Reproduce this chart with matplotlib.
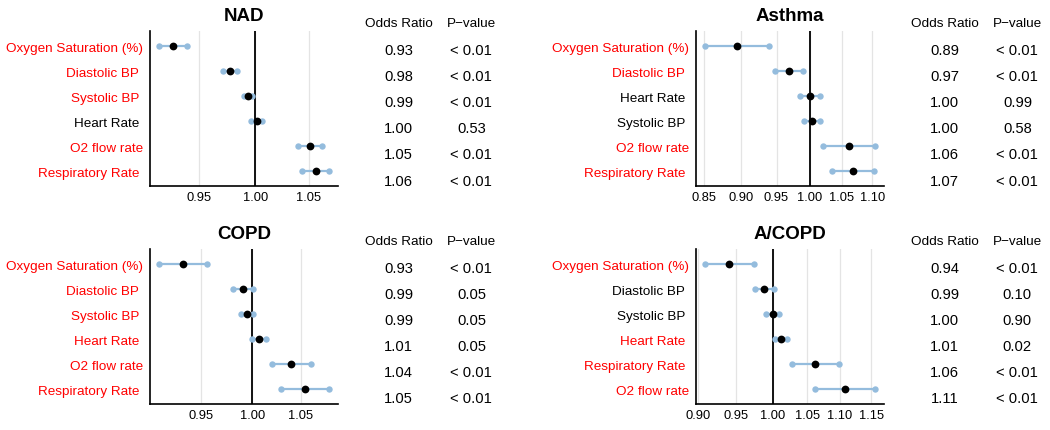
import matplotlib
matplotlib.use("Agg")
import matplotlib.pyplot as plt
from matplotlib.ticker import MultipleLocator, FormatStrFormatter, NullLocator

plt.rcParams['font.family'] = ['Liberation Sans', 'DejaVu Sans']

# ---------------- data ----------------
nad_names = ["Oxygen Saturation (%)", "Diastolic BP ", "Systolic BP ", "Heart Rate ", "O2 flow rate", "Respiratory Rate "]
nad_or = [0.927, 0.977, 0.993, 1.0016, 1.051, 1.057]
nad_lo = [0.915, 0.9705, 0.9893, 0.9963, 1.040, 1.044]
nad_hi = [0.939, 0.983, 0.997, 1.006, 1.063, 1.070]
nad_or_txt = ["0.93", "0.98", "0.99", "1.00", "1.05", "1.06"]
nad_p = ["< 0.01", "< 0.01", "< 0.01", "0.53", "< 0.01", "< 0.01"]

asthma_names = ["Oxygen Saturation (%)", "Diastolic BP ", "Heart Rate ", "Systolic BP ", "O2 flow rate", "Respiratory Rate "]
asthma_or = [0.894, 0.9687, 0.9997, 1.0028, 1.0612, 1.0684]
asthma_lo = [0.8508, 0.9485, 0.9851, 0.9912, 1.0198, 1.0346]
asthma_hi = [0.9394, 0.9886, 1.0147, 1.0151, 1.105, 1.1033]
asthma_or_txt = ["0.89", "0.97", "1.00", "1.00", "1.06", "1.07"]
asthma_p = ["< 0.01", "< 0.01", "0.99", "0.58", "< 0.01", "< 0.01"]

copd_names = ["Oxygen Saturation (%)", "Diastolic BP ", "Systolic BP ", "Heart Rate ", "O2 flow rate", "Respiratory Rate "]
copd_or = [0.933, 0.9904, 0.9944, 1.0070, 1.0398, 1.0542]
copd_lo = [0.9102, 0.9812, 0.9885, 0.9997, 1.0199, 1.0291]
copd_hi = [0.9557, 1.001, 1.0007, 1.0141, 1.0602, 1.0801]
copd_or_txt = ["0.93", "0.99", "0.99", "1.01", "1.04", "1.05"]
copd_p = ["< 0.01", "0.05", "0.05", "0.05", "< 0.01", "< 0.01"]

acopd_names = ["Oxygen Saturation (%)", "Diastolic BP ", "Systolic BP ", "Heart Rate ", "Respiratory Rate ", "O2 flow rate"]
acopd_or = [0.9401, 0.9883, 1.000, 1.0114, 1.0622, 1.108]
acopd_lo = [0.9084, 0.9749, 0.9912, 1.0028, 1.0282, 1.0622]
acopd_hi = [0.9739, 1.0024, 1.0085, 1.021, 1.098, 1.156]
acopd_or_txt = ["0.94", "0.99", "1.00", "1.01", "1.06", "1.11"]
acopd_p = ["< 0.01", "0.10", "0.90", "0.02", "< 0.01", "< 0.01"]

titles = ["NAD", "Asthma", "COPD", "A/COPD"]
header_or = "Odds Ratio"
header_p = "P\u2212value"

panels = [
    (titles[0], nad_names, nad_or, nad_lo, nad_hi, nad_or_txt, nad_p),
    (titles[1], asthma_names, asthma_or, asthma_lo, asthma_hi, asthma_or_txt, asthma_p),
    (titles[2], copd_names, copd_or, copd_lo, copd_hi, copd_or_txt, copd_p),
    (titles[3], acopd_names, acopd_or, acopd_lo, acopd_hi, acopd_or_txt, acopd_p),
]

# ---------------- layout ----------------
W, H = 1050, 431
fig = plt.figure(figsize=(W / 100, H / 100), dpi=100)

ax_w = 187.7
ax_h = 155.0
lefts = [150, 696, 150, 696]
bottoms = [187.3, 187.3, 405.3, 405.3]

CI_COLOR = "#94BCDD"
RED = "#FF0000"


def is_sig(p):
    return p.strip().startswith("<") or float(p) <= 0.05


for (title, names, orv, lo, hi, or_txt, pv), lx, by in zip(panels, lefts, bottoms):
    ax = fig.add_axes([lx / W, (H - by) / H, ax_w / W, ax_h / H])
    ax.set_xscale("log")
    ypos = list(range(len(names)))
    ax.grid(axis="x", color="#E4E4E4", linewidth=0.9, zorder=0)
    ax.set_axisbelow(True)
    ax.axvline(1.0, color="black", linewidth=1.3, zorder=1)
    for y, l, h in zip(ypos, lo, hi):
        ax.plot([l, h], [y, y], color=CI_COLOR, linewidth=1.6,
                marker="o", markersize=4.6, markeredgewidth=0, zorder=2,
                solid_capstyle="butt")
    ax.plot(orv, ypos, linestyle="none", marker="o", color="black",
            markersize=5.6, markeredgewidth=0, zorder=3)
    ax.margins(x=0.05)
    ax.set_ylim(len(names) - 0.4, -0.6)
    ax.set_yticks(ypos)
    ax.set_yticklabels(names, fontsize=9.7)
    for lbl, p in zip(ax.get_yticklabels(), pv):
        lbl.set_color(RED if is_sig(p) else "black")
    ax.xaxis.set_major_locator(MultipleLocator(0.05))
    ax.xaxis.set_minor_locator(NullLocator())
    ax.xaxis.set_major_formatter(FormatStrFormatter("%.2f"))
    ax.xaxis.set_minor_formatter(FormatStrFormatter(""))
    ax.tick_params(axis="x", length=0, pad=3.5, labelsize=9.3, colors="black")
    ax.tick_params(axis="y", length=0, pad=5.3)
    for s in ["top", "right"]:
        ax.spines[s].set_visible(False)
    for s in ["left", "bottom"]:
        ax.spines[s].set_linewidth(1.2)
    ax.set_title(title, fontsize=13.5, fontweight="bold", pad=8)

    # table of values
    x_or = 1 + 61.0 / ax_w
    x_p = 1 + 133.7 / ax_w
    y_head = 160.6 / ax_h
    ax.text(x_or, y_head, header_or, transform=ax.transAxes, ha="center",
            va="baseline", fontsize=9.7)
    ax.text(x_p, y_head, header_p, transform=ax.transAxes, ha="center",
            va="baseline", fontsize=9.7)
    n = len(names)
    for i, (o, p) in enumerate(zip(or_txt, pv)):
        yb = (1.8 + (n - 1 - i) * 26.1) / ax_h
        ax.text(x_or, yb, o, transform=ax.transAxes, ha="center",
                va="baseline", fontsize=10.6)
        ax.text(x_p, yb, p, transform=ax.transAxes, ha="center",
                va="baseline", fontsize=10.6)

fig.savefig("out.png", dpi=100)
